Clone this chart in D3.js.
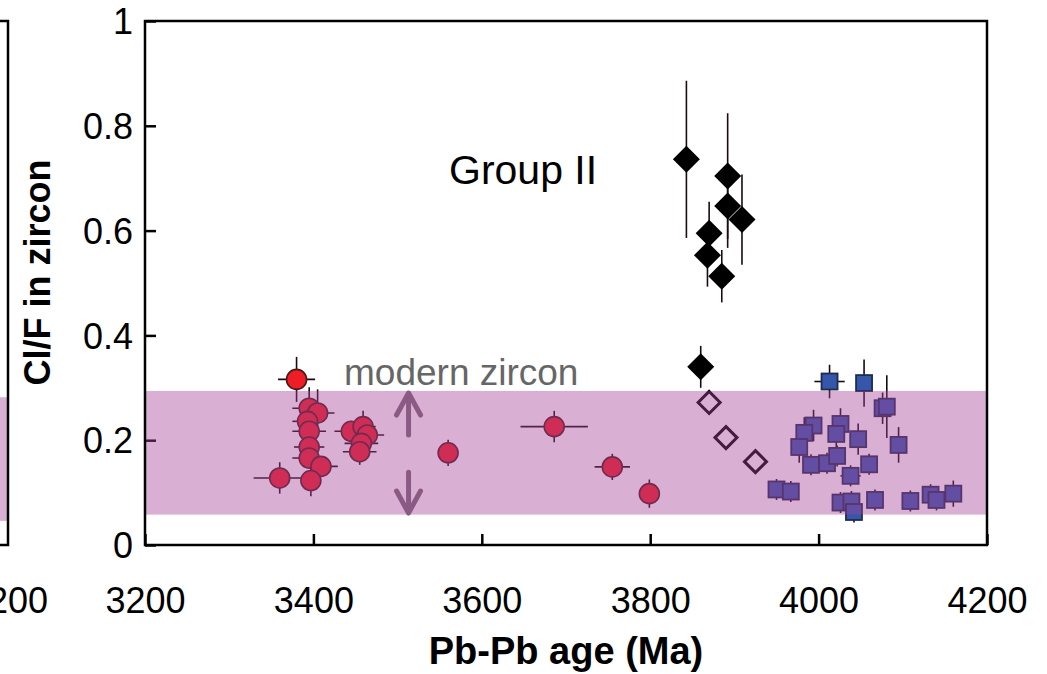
<!DOCTYPE html>
<html>
<head>
<meta charset="utf-8">
<script src="https://cdn.jsdelivr.net/npm/d3@7"></script>
<style>
  body { margin: 0; background: #fff; }
  svg { display: block; }
  text { font-family: "Liberation Sans", Arial, Helvetica, sans-serif; }
</style>
</head>
<body>
<svg id="chart" width="1047" height="674"></svg>
<script>
// ---- axis ticks ----
const xTicks = [3200, 3400, 3600, 3800, 4000, 4200];
const yTicks = [0, 0.2, 0.4, 0.6, 0.8, 1];

// ---- Group I zircons (circles): Pb-Pb age, Cl/F, 1-sigma errors ----
const circleAge    = [3360, 3395, 3405, 3393, 3395, 3395, 3395, 3409, 3397, 3445, 3459, 3464, 3457, 3455, 3560, 3686, 3755, 3799];
const circleCl     = [0.128, 0.261, 0.252, 0.236, 0.217, 0.187, 0.166, 0.150, 0.123, 0.217, 0.226, 0.210, 0.194, 0.178, 0.176, 0.226, 0.149, 0.098];
const circleAgeErr = [31, 20, 20, 18, 20, 18, 20, 20, 10, 20, 15, 20, 20, 20, 4, 40, 21, 3];
const circleClErr  = [0.03, 0.04, 0.045, 0.02, 0.02, 0.02, 0.02, 0.02, 0.03, 0.02, 0.03, 0.02, 0.02, 0.025, 0.025, 0.03, 0.025, 0.027];

// highlighted circle above the modern range
const hotAge = [3380];
const hotCl = [0.316];
const hotAgeErr = [22];
const hotClErr = [0.043];

// ---- Group II zircons (filled diamonds) ----
const diamondAge   = [3843, 3892, 3892, 3909, 3870, 3868, 3885, 3860];
const diamondCl    = [0.736, 0.704, 0.647, 0.621, 0.595, 0.553, 0.513, 0.340];
const diamondClErr = [0.15, 0.12, 0.08, 0.086, 0.06, 0.06, 0.05, 0.04];

// ---- open diamonds ----
const openAge = [3870, 3890, 3925];
const openCl  = [0.272, 0.205, 0.159];

// ---- Hadean zircons (squares) ----
const squareAge    = [4076, 4081, 3994, 3983, 3977, 4026, 4021, 4047, 4095, 3991, 4010, 4022, 4060, 4038, 3950, 3967, 4026, 4039, 4042, 4067, 4109, 4133, 4140, 4160, 4013, 4054];
const squareCl     = [0.261, 0.264, 0.228, 0.214, 0.187, 0.231, 0.212, 0.202, 0.191, 0.153, 0.156, 0.170, 0.154, 0.132, 0.106, 0.102, 0.081, 0.083, 0.063, 0.086, 0.084, 0.096, 0.086, 0.098, 0.312, 0.309];
const squareAgeErr = [0, 0, 4, 6, 0, 0, 0, 0, 10, 0, 0, 6, 0, 12, 0, 0, 8, 0, 8, 0, 10, 0, 0, 0, 18, 0];
const squareClErr  = [0.03, 0.06, 0.03, 0.03, 0.03, 0.03, 0.03, 0.03, 0.034, 0.02, 0.02, 0.02, 0.02, 0.02, 0.02, 0.02, 0.02, 0.02, 0.02, 0.02, 0.02, 0.02, 0.02, 0.025, 0.032, 0.045];

// ---- modern zircon range ----
const modernRange = [0.058, 0.294];
const neighbourRange = [0.046, 0.282];
const arrowAge = [3513];
const arrowUp = [0.21, 0.29];
const arrowDown = [0.139, 0.061];

const svg = d3.select("#chart");
const x = d3.scaleLinear().domain([3200, 4200]).range([145, 987]);
const y = d3.scaleLinear().domain([0, 1]).range([545, 21]);

const band = "rgba(165,67,153,0.42)";

// neighbouring panel (cut off at the left edge)
const left = svg.append("g");
left.append("rect")
  .attr("x", -20).attr("width", 28)
  .attr("y", y(neighbourRange[1])).attr("height", y(neighbourRange[0]) - y(neighbourRange[1]))
  .attr("fill", band);
left.append("path")
  .attr("d", `M-20,${y(1)}H8V${y(0)}H-20`)
  .attr("fill", "none").attr("stroke", "#000").attr("stroke-width", 2.5);
left.append("text")
  .attr("x", 8).attr("y", 613).attr("text-anchor", "middle")
  .attr("font-size", 36).text("4200");

// axes with inward ticks
const xAxis = svg.append("g").attr("transform", `translate(0,${y(0)})`)
  .call(d3.axisBottom(x).tickValues(xTicks).tickSize(-11).tickPadding(55).tickFormat(d3.format("d")));
const yAxis = svg.append("g").attr("transform", `translate(${x(3200)},0)`)
  .call(d3.axisLeft(y).tickValues(yTicks).tickSize(-11).tickPadding(12).tickFormat(d => d3.format("")(d)));
[xAxis, yAxis].forEach(a => {
  a.select(".domain").remove();
  a.selectAll(".tick line").attr("stroke", "#000").attr("stroke-width", 2.5);
  a.selectAll(".tick text").attr("fill", "#000").attr("font-size", 36)
    .attr("font-family", "'Liberation Sans', Arial, sans-serif");
});
xAxis.selectAll(".tick text").attr("dy", "0.35em");
yAxis.selectAll(".tick text").attr("dy", "0.35em");

// error bars
const errLayer = svg.append("g").attr("stroke", "#1a0a14").attr("stroke-width", 1.6);
function errorBars(ages, vals, ageErr, valErr) {
  ages.forEach((a, i) => {
    const ex = ageErr ? ageErr[i] : 0, ey = valErr ? valErr[i] : 0;
    if (ex > 0) errLayer.append("line")
      .attr("x1", x(a - ex)).attr("x2", x(a + ex)).attr("y1", y(vals[i])).attr("y2", y(vals[i]));
    if (ey > 0) errLayer.append("line")
      .attr("x1", x(a)).attr("x2", x(a)).attr("y1", y(vals[i] - ey)).attr("y2", y(vals[i] + ey));
  });
}
errorBars(diamondAge, diamondCl, null, diamondClErr);
errorBars(squareAge, squareCl, squareAgeErr, squareClErr);
errorBars(circleAge, circleCl, circleAgeErr, circleClErr);
errorBars(hotAge, hotCl, hotAgeErr, hotClErr);

// markers
const diamondPath = (cx, cy, r) => `M${cx},${cy - r}L${cx + r},${cy}L${cx},${cy + r}L${cx - r},${cy}Z`;

const sq = svg.append("g");
squareAge.forEach((a, i) => {
  sq.append("rect")
    .attr("x", x(a) - 8).attr("y", y(squareCl[i]) - 8)
    .attr("width", 16).attr("height", 16)
    .attr("fill", "#3456ab").attr("stroke", "#1f2c4d").attr("stroke-width", 1.8);
});

svg.append("g").selectAll("path").data(openAge).join("path")
  .attr("d", (a, i) => diamondPath(x(a), y(openCl[i]), 11))
  .attr("fill", "#fff").attr("stroke", "#000").attr("stroke-width", 3);

svg.append("g").selectAll("path").data(diamondAge).join("path")
  .attr("d", (a, i) => diamondPath(x(a), y(diamondCl[i]), 13.5))
  .attr("fill", "#000");

svg.append("g").selectAll("circle").data(circleAge).join("circle")
  .attr("cx", a => x(a)).attr("cy", (a, i) => y(circleCl[i])).attr("r", 10)
  .attr("fill", "#ee1d26").attr("stroke", "#4a1a1a").attr("stroke-width", 1.6);

svg.append("g").selectAll("circle").data(hotAge).join("circle")
  .attr("cx", a => x(a)).attr("cy", (a, i) => y(hotCl[i])).attr("r", 10)
  .attr("fill", "#ee1d26").attr("stroke", "#4a1a1a").attr("stroke-width", 1.6);

// translucent modern-zircon band laid over the data
svg.append("rect")
  .attr("x", x(3200)).attr("width", x(4200) - x(3200))
  .attr("y", y(modernRange[1])).attr("height", y(modernRange[0]) - y(modernRange[1]))
  .attr("fill", band);

// plot frame
svg.append("rect")
  .attr("x", x(3200)).attr("y", y(1))
  .attr("width", x(4200) - x(3200)).attr("height", y(0) - y(1))
  .attr("fill", "none").attr("stroke", "#000").attr("stroke-width", 2.5);

// arrows showing the modern range
const arrowColor = "#8a5a84";
function arrow(a, from, to) {
  const X = x(a), y0 = y(from), y1 = y(to);
  const dir = y1 < y0 ? 1 : -1;
  const g = svg.append("g").attr("stroke", arrowColor).attr("stroke-width", 5)
    .attr("stroke-linecap", "round").attr("stroke-linejoin", "round").attr("fill", "none");
  g.append("line").attr("x1", X).attr("x2", X).attr("y1", y0).attr("y2", y1 + dir * 2);
  g.append("path").attr("d", `M${X - 12},${y1 + dir * 22}L${X},${y1}L${X + 12},${y1 + dir * 22}`);
}
arrow(arrowAge[0], arrowUp[0], arrowUp[1]);
arrow(arrowAge[0], arrowDown[0], arrowDown[1]);

// annotations
svg.append("text").attr("x", 344).attr("y", 385)
  .attr("font-size", 37).attr("fill", "#666").text("modern zircon");
svg.append("text").attr("x", 449).attr("y", 184)
  .attr("font-size", 41).attr("fill", "#000").text("Group II");

// axis titles
svg.append("text")
  .attr("x", x(3700)).attr("y", 664).attr("text-anchor", "middle")
  .attr("font-size", 38).attr("font-weight", "bold").text("Pb-Pb age (Ma)");
svg.append("text")
  .attr("transform", `translate(50,${y(0.52)}) rotate(-90)`)
  .attr("text-anchor", "middle")
  .attr("font-size", 36).attr("font-weight", "bold").text("Cl/F in zircon");
</script>
</body>
</html>
